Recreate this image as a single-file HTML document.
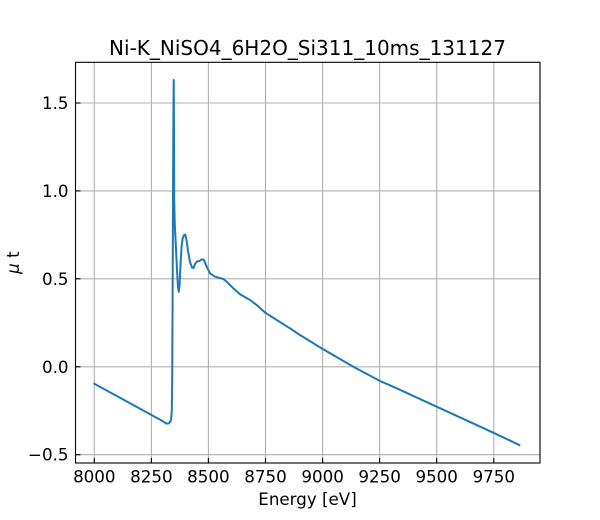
<!DOCTYPE html>
<html>
<head>
<meta charset="utf-8">
<style>
  html, body { margin: 0; padding: 0; background: #ffffff; }
  svg { display: block; }
  text { font-family: "DejaVu Sans", "Liberation Sans", sans-serif; fill: #000; }
</style>
</head>
<body>
<svg width="600" height="520" viewBox="0 0 600 520" xmlns="http://www.w3.org/2000/svg">
  <rect x="0" y="0" width="600" height="520" fill="#ffffff"/>
  <!-- grid -->
  <g stroke="#b0b0b0" stroke-width="1.1">
    <line x1="94.3" y1="62.3" x2="94.3" y2="463"/>
    <line x1="151.4" y1="62.3" x2="151.4" y2="463"/>
    <line x1="208.4" y1="62.3" x2="208.4" y2="463"/>
    <line x1="265.5" y1="62.3" x2="265.5" y2="463"/>
    <line x1="322.6" y1="62.3" x2="322.6" y2="463"/>
    <line x1="379.6" y1="62.3" x2="379.6" y2="463"/>
    <line x1="436.7" y1="62.3" x2="436.7" y2="463"/>
    <line x1="493.8" y1="62.3" x2="493.8" y2="463"/>
    <line x1="75.5" y1="103" x2="540" y2="103"/>
    <line x1="75.5" y1="190.9" x2="540" y2="190.9"/>
    <line x1="75.5" y1="278.8" x2="540" y2="278.8"/>
    <line x1="75.5" y1="366.8" x2="540" y2="366.8"/>
    <line x1="75.5" y1="454.7" x2="540" y2="454.7"/>
  </g>
  <!-- data -->
  <polyline fill="none" stroke="#1f77b4" stroke-width="2" stroke-linejoin="round" stroke-linecap="square"
    points="94.3,383.7 130,403.2 160,419.6 164,422 166.5,423.6 168.5,423.4 170.5,421.5 171.3,418 171.8,410 172.2,380 172.6,300 173,200 173.4,120 173.7,80 174,130 174.2,200 174.8,225 175.8,245 177,270 178,287 178.8,291.7 179.6,285 180.5,265 181.5,248 182.5,239 184,235 185.3,234.5 186.5,240 188,251 190,262 192,267.5 193.5,268 195,264 197,261.5 199.5,261 201.7,259.3 204,260 206.7,266.7 210,273.3 215,276.7 223.3,279 226.7,281.7 233.3,288.3 240,294.3 250,300 256.7,305 265.3,312.7 276.7,320 290,328.3 300,335 322.7,349 340,359 353.3,366.7 380,381 396.7,388.3 436.9,406.8 493.3,432.7 519.3,445"/>
  <!-- ticks (inward) -->
  <g stroke="#000" stroke-width="1.1">
    <line x1="94.3" y1="463" x2="94.3" y2="458"/>
    <line x1="151.4" y1="463" x2="151.4" y2="458"/>
    <line x1="208.4" y1="463" x2="208.4" y2="458"/>
    <line x1="265.5" y1="463" x2="265.5" y2="458"/>
    <line x1="322.6" y1="463" x2="322.6" y2="458"/>
    <line x1="379.6" y1="463" x2="379.6" y2="458"/>
    <line x1="436.7" y1="463" x2="436.7" y2="458"/>
    <line x1="493.8" y1="463" x2="493.8" y2="458"/>
    <line x1="75.5" y1="103" x2="80.5" y2="103"/>
    <line x1="75.5" y1="190.9" x2="80.5" y2="190.9"/>
    <line x1="75.5" y1="278.8" x2="80.5" y2="278.8"/>
    <line x1="75.5" y1="366.8" x2="80.5" y2="366.8"/>
    <line x1="75.5" y1="454.7" x2="80.5" y2="454.7"/>
  </g>
  <!-- spines -->
  <rect x="75.5" y="62.3" width="464.5" height="400.7" fill="none" stroke="#000" stroke-width="1.1"/>
  <!-- x tick labels -->
  <g font-size="16.7" text-anchor="middle">
    <text x="94.3" y="482.5">8000</text>
    <text x="151.4" y="482.5">8250</text>
    <text x="208.4" y="482.5">8500</text>
    <text x="265.5" y="482.5">8750</text>
    <text x="322.6" y="482.5">9000</text>
    <text x="379.6" y="482.5">9250</text>
    <text x="436.7" y="482.5">9500</text>
    <text x="493.8" y="482.5">9750</text>
  </g>
  <!-- y tick labels -->
  <g font-size="16.7" text-anchor="end">
    <text x="68.5" y="109">1.5</text>
    <text x="68.5" y="196.9">1.0</text>
    <text x="68.5" y="284.8">0.5</text>
    <text x="68.5" y="372.8">0.0</text>
    <text x="68.5" y="460.7">−0.5</text>
  </g>
  <!-- axis labels -->
  <text x="307.5" y="505" font-size="16.7" text-anchor="middle">Energy [eV]</text>
  <text transform="translate(19,262.6) rotate(-90)" font-size="16.7" text-anchor="middle"><tspan font-style="italic">μ</tspan> t</text>
  <!-- title -->
  <text x="307.5" y="55" font-size="20" text-anchor="middle">Ni-K_NiSO4_6H2O_Si311_10ms_131127</text>
</svg>
</body>
</html>
